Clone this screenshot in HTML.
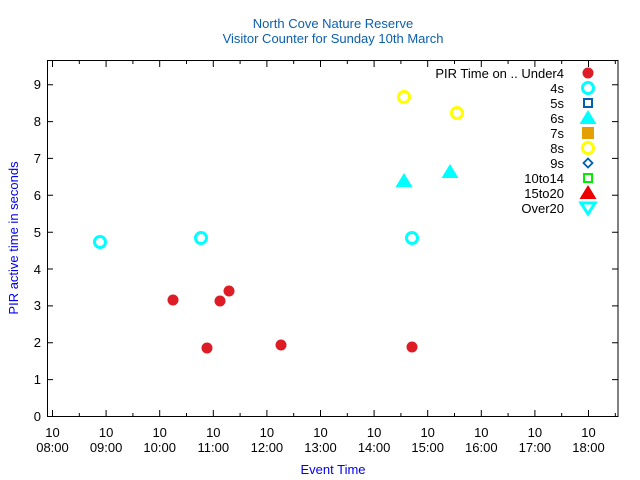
<!DOCTYPE html>
<html><head><meta charset="utf-8"><style>
html,body{margin:0;padding:0;background:#fff}
svg{display:block;font-family:"Liberation Sans",sans-serif}
</style></head><body>
<svg width="640" height="480" viewBox="0 0 640 480" xmlns="http://www.w3.org/2000/svg">
<rect width="640" height="480" fill="#fff"/>
<text x="333" y="28" font-size="13" fill="#1a5fb4" text-anchor="middle" fill-opacity="1" style="fill:#0b5fb0">North Cove Nature Reserve</text>
<text x="333" y="43" font-size="13" text-anchor="middle" style="fill:#0b5fb0">Visitor Counter for Sunday 10th March</text>
<rect x="47.5" y="60.5" width="570.5" height="356" fill="none" stroke="#000" stroke-width="1"/>
<g stroke="#000" stroke-width="1">
<!-- y ticks -->
<path d="M47 416.5h6M47 379.6h6M47 342.8h6M47 305.9h6M47 269h6M47 232.2h6M47 195.3h6M47 158.4h6M47 121.6h6M47 84.7h6"/>
<path d="M618 416.5h-6M618 379.6h-6M618 342.8h-6M618 305.9h-6M618 269h-6M618 232.2h-6M618 195.3h-6M618 158.4h-6M618 121.6h-6M618 84.7h-6"/>
<!-- x ticks major -->
<path d="M52.5 416v-6M106.1 416v-6M159.7 416v-6M213.3 416v-6M266.9 416v-6M320.5 416v-6M374.1 416v-6M427.7 416v-6M481.3 416v-6M534.9 416v-6M588.5 416v-6"/>
<path d="M52.5 61v6M106.1 61v6M159.7 61v6M213.3 61v6M266.9 61v6M320.5 61v6M374.1 61v6M427.7 61v6M481.3 61v6M534.9 61v6M588.5 61v6"/>
<path d="M79.3 416v-3M132.9 416v-3M186.5 416v-3M240.1 416v-3M293.7 416v-3M347.3 416v-3M400.9 416v-3M454.5 416v-3M508.1 416v-3M561.7 416v-3M615.3 416v-3"/>
<path d="M79.3 61v3M132.9 61v3M186.5 61v3M240.1 61v3M293.7 61v3M347.3 61v3M400.9 61v3M454.5 61v3M508.1 61v3M561.7 61v3M615.3 61v3"/>
</g>
<g font-size="13" fill="#000" text-anchor="end">
<text x="41" y="421">0</text><text x="41" y="384">1</text><text x="41" y="347">2</text><text x="41" y="310">3</text><text x="41" y="274">4</text><text x="41" y="237">5</text><text x="41" y="200">6</text><text x="41" y="163">7</text><text x="41" y="126">8</text><text x="41" y="89">9</text>
</g>
<g font-size="13" fill="#000" text-anchor="middle">
<text x="52.5" y="437">10</text><text x="52.5" y="452">08:00</text>
<text x="106.1" y="437">10</text><text x="106.1" y="452">09:00</text>
<text x="159.7" y="437">10</text><text x="159.7" y="452">10:00</text>
<text x="213.3" y="437">10</text><text x="213.3" y="452">11:00</text>
<text x="266.9" y="437">10</text><text x="266.9" y="452">12:00</text>
<text x="320.5" y="437">10</text><text x="320.5" y="452">13:00</text>
<text x="374.1" y="437">10</text><text x="374.1" y="452">14:00</text>
<text x="427.7" y="437">10</text><text x="427.7" y="452">15:00</text>
<text x="481.3" y="437">10</text><text x="481.3" y="452">16:00</text>
<text x="534.9" y="437">10</text><text x="534.9" y="452">17:00</text>
<text x="588.5" y="437">10</text><text x="588.5" y="452">18:00</text>
</g>
<text x="333" y="474" font-size="13" fill="#0000ee" text-anchor="middle">Event Time</text>
<text transform="translate(18,238) rotate(-90)" font-size="13" fill="#0000ee" text-anchor="middle">PIR active time in seconds</text>
<!-- data -->
<g fill="#dd1c26">
<circle cx="173" cy="300" r="5.5"/><circle cx="207" cy="348" r="5.5"/><circle cx="220" cy="301" r="5.5"/><circle cx="229" cy="291" r="5.5"/><circle cx="281" cy="345" r="5.5"/><circle cx="412" cy="347" r="5.5"/>
</g>
<g fill="none" stroke="#00ffff" stroke-width="3">
<circle cx="100" cy="242" r="5.5"/><circle cx="201" cy="238" r="5.5"/><circle cx="412" cy="238" r="5.5"/>
</g>
<g fill="none" stroke="#ffff00" stroke-width="3">
<circle cx="404" cy="97" r="5.5"/><circle cx="457" cy="113" r="5.5"/>
</g>
<g fill="#00ffff">
<path d="M404 173l8.5 14h-17z"/><path d="M450 164l8.5 14h-17z"/>
</g>
<!-- legend -->
<g font-size="13" fill="#000" text-anchor="end">
<text x="564" y="78">PIR Time on .. Under4</text>
<text x="564" y="93">4s</text><text x="564" y="108">5s</text><text x="564" y="123">6s</text><text x="564" y="138">7s</text><text x="564" y="153">8s</text><text x="564" y="168">9s</text><text x="564" y="183">10to14</text><text x="564" y="198">15to20</text><text x="564" y="213">Over20</text>
</g>
<circle cx="588" cy="73" r="5.5" fill="#dd1c26"/>
<circle cx="588" cy="88" r="5.5" fill="none" stroke="#00ffff" stroke-width="3"/>
<rect x="584" y="99" width="8" height="8" fill="none" stroke="#0060ad" stroke-width="2"/>
<path d="M588 110l8.5 14h-17z" fill="#00ffff"/>
<rect x="582" y="127" width="12" height="12" fill="#e69f00"/>
<circle cx="588" cy="148" r="5.5" fill="none" stroke="#ffff00" stroke-width="3"/>
<path d="M588 158.5l4.5 4.5-4.5 4.5-4.5-4.5z" fill="none" stroke="#0060ad" stroke-width="1.8"/>
<rect x="584" y="174" width="8" height="8" fill="none" stroke="#00ee00" stroke-width="2"/>
<path d="M588 185l8.5 14h-17z" fill="#ee0000"/>
<path d="M581 203h14l-7 11z" fill="none" stroke="#00ffff" stroke-width="3"/>
</svg>
</body></html>
